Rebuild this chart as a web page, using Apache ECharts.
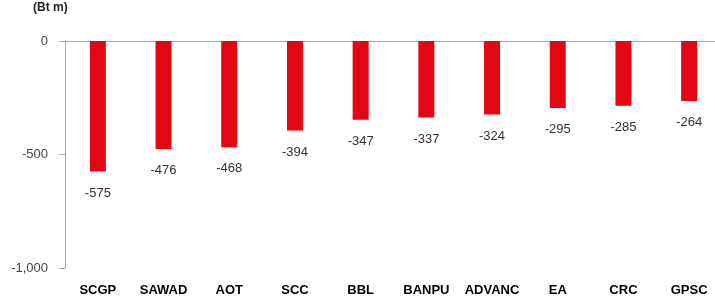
<!DOCTYPE html>
<html>
<head>
<meta charset="utf-8">
<script src="https://cdn.jsdelivr.net/npm/echarts@6/dist/echarts.min.js"></script>
<style>
  html, body { margin: 0; padding: 0; background: #fff; overflow: hidden; }
  #chart { width: 722px; height: 302px; }
</style>
</head>
<body>
<div id="chart"></div>
<script>
const categories = ['SCGP', 'SAWAD', 'AOT', 'SCC', 'BBL', 'BANPU', 'ADVANC', 'EA', 'CRC', 'GPSC'];
const values = [-575, -476, -468, -394, -347, -337, -324, -295, -285, -264];
const yTicks = { min: -1000, max: 0, interval: 500 };

const chart = echarts.init(document.getElementById('chart'));
const font = 'Liberation Sans, Arial, sans-serif';

chart.setOption({
  animation: false,
  textStyle: { fontFamily: font },
  graphic: [{
    type: 'text',
    left: 33,
    top: 2,
    style: { text: '(Bt m)', font: 'bold 12px ' + font, fill: '#222' }
  }],
  grid: { left: 65, right: 0, top: 41, bottom: 34 },
  xAxis: [
    {
      // top line with ticks between bars
      type: 'category',
      data: categories,
      position: 'top',
      axisLine: { lineStyle: { color: '#aaa' } },
      axisTick: { inside: true, length: 5, lineStyle: { color: '#aaa' } },
      axisLabel: { show: false }
    },
    {
      type: 'category',
      data: categories,
      position: 'bottom',
      axisLine: { show: false },
      axisTick: { show: false },
      axisLabel: { interval: 0, color: '#000', fontWeight: 'bold', fontSize: 13, margin: 16 }
    }
  ],
  yAxis: {
    type: 'value',
    min: yTicks.min,
    max: yTicks.max,
    interval: yTicks.interval,
    splitLine: { show: false },
    axisLine: { show: true, lineStyle: { color: '#aaa' } },
    axisTick: { show: true, length: 6, lineStyle: { color: '#aaa' } },
    axisLabel: {
      color: '#444',
      fontSize: 13,
      margin: 17,
      formatter: v => v.toLocaleString('en-US')
    }
  },
  series: [{
    type: 'bar',
    data: values,
    barWidth: 16,
    itemStyle: { color: '#e30613' },
    label: {
      show: true,
      position: 'bottom',
      distance: 15,
      color: '#333',
      fontSize: 13
    }
  }]
});
</script>
</body>
</html>
